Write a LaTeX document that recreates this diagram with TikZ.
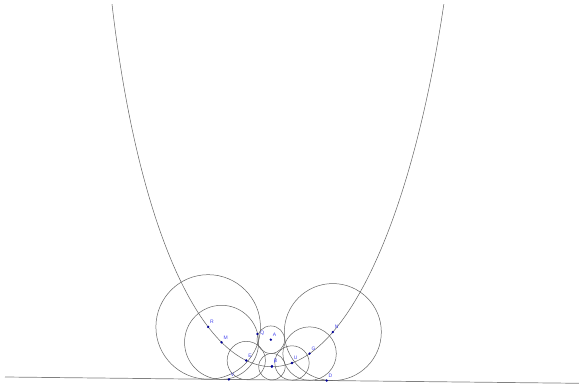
\documentclass[tikz,border=0pt]{standalone}
\usepackage{fontspec}
\setmainfont{Liberation Sans}
\usetikzlibrary{calc}
\definecolor{ptblue}{RGB}{0,0,150}
\definecolor{lblblue}{RGB}{70,70,240}
\definecolor{strokegray}{RGB}{100,100,100}
\newcommand\ellpt[2]{\coordinate (#1) at ({281.98+181.47*sin(#2)-10.98*cos(#2)},{-243.2+3.267*sin(#2)+609.9*cos(#2)});}
\begin{document}
\begin{tikzpicture}[x=1pt,y=-1pt,
  circ/.style={draw=strokegray,line width=0.5pt},
  curve/.style={draw=strokegray,line width=0.5pt},
  base/.style={draw=black!50,line width=0.7pt},
  pt/.style={fill=ptblue,draw=none},
  lbl/.style={text=lblblue,font=\fontsize{5}{6}\selectfont,inner sep=0pt,anchor=south west}]
\fill[white] (0,0) rectangle (579,387);
\useasboundingbox (0,0) rectangle (579,387);
\coordinate (L1) at (5,377);
\coordinate (L2) at (579,383.3);
\ellpt{R}{-20.49}
\ellpt{M}{-15.94}
\ellpt{E}{-7.865}
\ellpt{I}{0.3}
\ellpt{U}{6.62}
\ellpt{G}{12.2}
\ellpt{N}{19.7}
\coordinate (A) at (270.8,339.7);
\coordinate (Q) at (257.3,334);
\coordinate (V) at ($(L1)!(229,379.7)!(L2)$);
\coordinate (D) at ($(L1)!(326.7,381)!(L2)$);
% base line
\draw[base] (L1) -- (L2);
% circles tangent to the line
\foreach \c in {R,M,E,I,U,G,N}{
  \coordinate (foot\c) at ($(L1)!(\c)!(L2)$);
  \draw[circ] let \p1=($(\c)-(foot\c)$) in (\c) circle ({veclen(\x1,\y1)});
}
% circle A, tangent to circle I
\draw[circ] let \p1=($(A)-(I)$),\p2=($(I)-(footI)$) in (A) circle ({veclen(\x1,\y1)-veclen(\x2,\y2)});
\path let \p1=($(I)-(footI)$),\p2=($(A)-(I)$) in ($(I)!{veclen(\x1,\y1)/veclen(\x2,\y2)}!(A)$) coordinate (B);
% the curve
\begin{scope}
\clip (0,5) rectangle (579,387);
\draw[curve] plot[domain=-70:70,samples=300,variable=\t]
  ({281.98+181.47*sin(\t)-10.98*cos(\t)},{-243.2+3.267*sin(\t)+609.9*cos(\t)});
\end{scope}
% points and labels
\foreach \c in {R,M,E,V,A,B,I,U,G,N,D}{
  \fill[pt] (\c) circle (1.3);
  \node[lbl] (lab\c) at ($(\c)+(1.8,-3)$) {\c};
}
\fill[pt] (Q) circle (1.3);
\node[lbl,anchor=west] (labQ) at ($(Q)+(2.8,-0.7)$) {Q};
\end{tikzpicture}
\end{document}
